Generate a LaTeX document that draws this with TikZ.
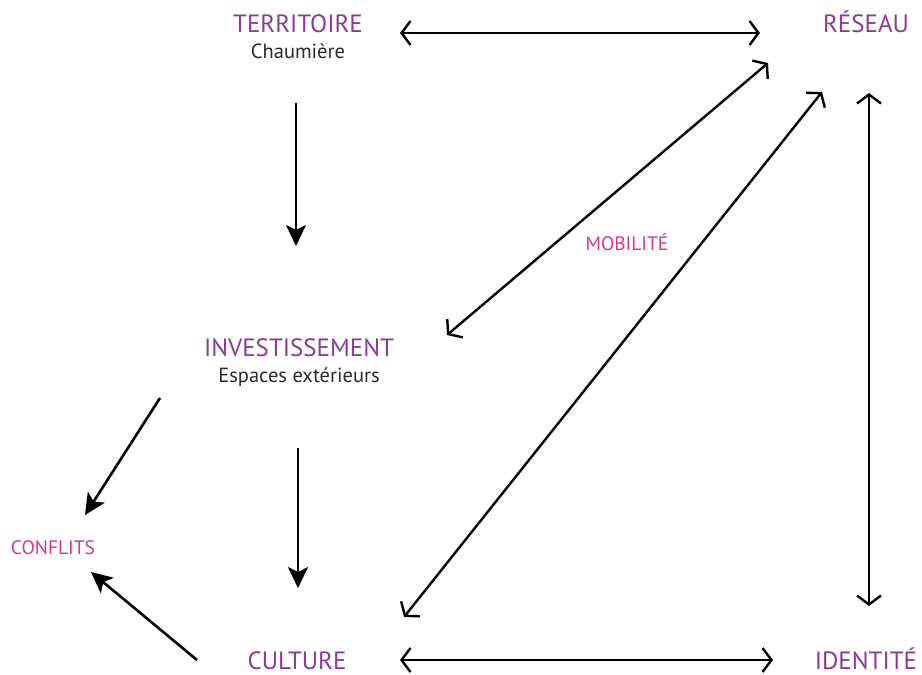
\documentclass[tikz,border=0pt]{standalone}
\usepackage{fontspec}
\setmainfont{PT Sans}
\usetikzlibrary{arrows.meta}
\definecolor{lblpurple}{HTML}{8B3A96}
\definecolor{lblpink}{HTML}{D8368A}
\definecolor{subgray}{HTML}{2A2A2A}
\begin{document}
\begin{tikzpicture}[x=1pt,y=-1pt,
  main/.style={text=lblpurple,font=\fontsize{25}{28}\selectfont,inner sep=0pt,anchor=base},
  sub/.style={text=subgray,font=\fontsize{20.5}{24}\selectfont,inner sep=0pt,anchor=base},
  rel/.style={text=lblpink,font=\fontsize{19.5}{22}\selectfont,inner sep=0pt,anchor=base},
  oneway/.style={line width=2.6pt,-{Stealth[length=21pt,width=20pt,inset=5pt]}},
  twoway/.style={line width=2.4pt,{Straight Barb[length=9pt,width=24pt]}-{Straight Barb[length=9pt,width=24pt]}}]
\useasboundingbox (0,0) rectangle (922,675);
\node[main] (terr) at (298,32) {TERRITOIRE};
\node[sub] (chau) at (298,58) {Chaumière};
\node[main] (res) at (866,32) {RÉSEAU};
\node[main] (inv) at (299,356) {INVESTISSEMENT};
\node[sub] (esp) at (299,382) {Espaces extérieurs};
\node[rel] (conf) at (53,554) {CONFLITS};
\node[main] (cult) at (297,669) {CULTURE};
\node[main] (iden) at (866,669) {IDENTITÉ};
\node[rel] (mob) at (627,250) {MOBILITÉ};
% arrow end points
\coordinate (tA) at (400,33);
\coordinate (tB) at (760,33);
\coordinate (v1a) at (296,103);
\coordinate (v1b) at (296,246);
\coordinate (d1a) at (447,335);
\coordinate (d1b) at (768,63);
\coordinate (d2a) at (404,617);
\coordinate (d2b) at (822,92);
\coordinate (rA) at (869,93);
\coordinate (rB) at (869,606);
\coordinate (v2a) at (298,448);
\coordinate (v2b) at (298,588);
\coordinate (c1a) at (160,398);
\coordinate (c1b) at (85,515);
\coordinate (c2a) at (197,660);
\coordinate (c2b) at (91,572);
\coordinate (bA) at (400,660);
\coordinate (bB) at (773,660);
\draw[twoway] (tA) -- (tB);
\draw[oneway] (v1a) -- (v1b);
\draw[twoway] (d1a) -- (d1b);
\draw[twoway] (d2a) -- (d2b);
\draw[twoway] (rA) -- (rB);
\draw[oneway] (v2a) -- (v2b);
\draw[oneway] (c1a) -- (c1b);
\draw[oneway] (c2a) -- (c2b);
\draw[twoway] (bA) -- (bB);
\end{tikzpicture}
\end{document}
